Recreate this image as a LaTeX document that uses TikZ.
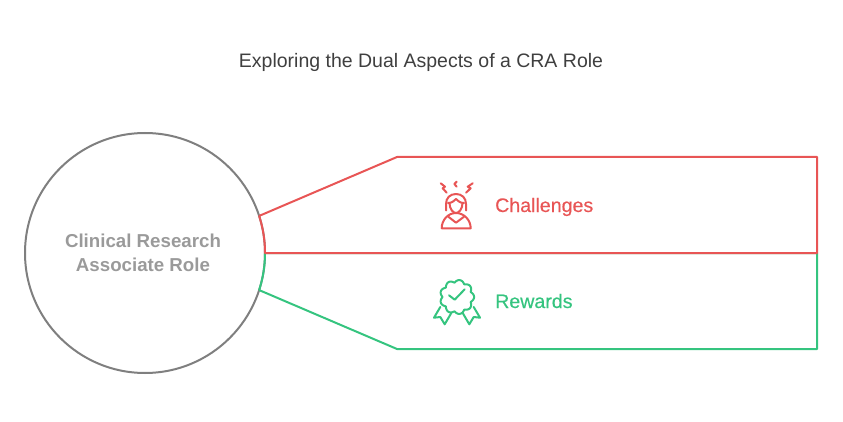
\documentclass[tikz,border=0pt]{standalone}
\usepackage{fontspec}
\setmainfont{Liberation Sans}
\newfontfamily\mediumfont[FakeBold=0.4]{Liberation Sans}
\definecolor{redline}{HTML}{E85555}
\definecolor{greenline}{HTML}{35C47F}
\definecolor{ringgray}{HTML}{7F7F7F}
\definecolor{rolegray}{HTML}{9A9A9A}
\definecolor{titlegray}{HTML}{3F3F3F}
\begin{document}
\begin{tikzpicture}[x=1pt, y=-1pt,
	outline/.style={line width=2pt, line join=round},
	glyph/.style={line width=2pt, line join=round, line cap=round},
	label/.style={font=\fontsize{19.6}{19.6}\selectfont\mediumfont, inner sep=0pt, anchor=base west}]
	\useasboundingbox (0,0) rectangle (843,422);

	% Define nodes with their coordinates
	\node[font=\fontsize{19.5}{19.5}\selectfont, text=titlegray, inner sep=0pt, anchor=base] (title) at (421,68) {Exploring the Dual Aspects of a CRA Role};
	\node[circle, draw=ringgray, line width=2pt, minimum size=240pt, inner sep=0pt, outer sep=0pt] (ring) at (145,253) {};
	\node[text=rolegray, align=center, inner sep=0pt, font=\fontsize{18.7}{24}\selectfont\bfseries] (role) at (143,253) {Clinical Research\\Associate Role};
	\node[label, text=redline] (challenges) at (495,212) {Challenges};
	\node[label, text=greenline] (rewards) at (495,308) {Rewards};

	% Draw the two bands
	\draw[outline, greenline] (ring.-18) -- (397,349) -- (817,349) -- (817,253) -- (ring.0) arc[start angle=0, end angle=-18, radius=120pt];
	\draw[outline, redline] (ring.18) -- (397,157) -- (817,157) -- (817,253) -- (ring.0) arc[start angle=0, end angle=18, radius=120pt];

	% Challenges icon
	\begin{scope}[glyph, redline, shift={(420,170)}]
		\draw (20.7,13.3) -- (25,16.7) -- (22.7,18.3) -- (26.7,22.7);
		\draw (36.7,11.7) -- (34.3,14) -- (36.7,16.7);
		\draw (52.7,13.3) -- (47.7,16.7) -- (50.7,18.3) -- (46,22.7);
		\draw (26,40.5) -- (26,34) .. controls (26,28) and (30,24) .. (36,24) .. controls (42,24) and (46,28) .. (46,34) -- (46,40.5);
		\draw (28,33) .. controls (32,33) and (34,31) .. (36,29) .. controls (38,31) and (40,33) .. (44,33);
		\draw (29.5,33) .. controls (29.5,39) and (33,43) .. (36,43) .. controls (39,43) and (42.5,39) .. (42.5,33);
		\draw (21.7,58.3) -- (50.7,58.3) .. controls (50.7,50) and (44,43) .. (36,43) .. controls (28,43) and (21.7,50) .. (21.7,58.3);
		\draw (28.3,46.7) -- (36,52.7) -- (44,46.7);
	\end{scope}

	% Rewards icon
	\begin{scope}[glyph, greenline, shift={(457,297)}]
		\draw plot[domain=0:360, samples=181] (\x:{14.5+2.6*abs(cos(4.5*\x))}) -- cycle;
		\draw (-8,-1.7) -- (-2.3,2.7) -- (7.7,-7.7);
		\draw (-16.7,10) -- (-23,20.7) -- (-16.7,20) -- (-12.3,27.3) -- (-5.7,16);
		\draw (16.7,10) -- (23,20.7) -- (16.7,20) -- (12.3,27.3) -- (5.7,16);
	\end{scope}
\end{tikzpicture}
\end{document}
